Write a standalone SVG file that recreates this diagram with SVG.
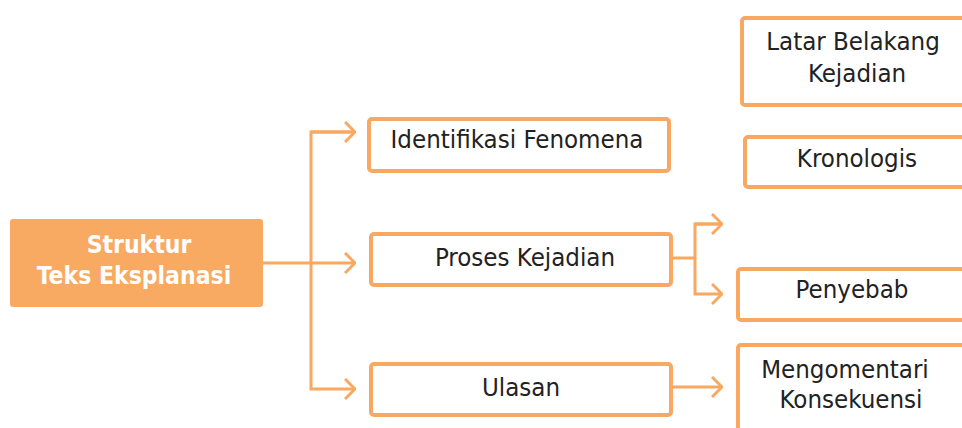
<svg xmlns="http://www.w3.org/2000/svg" width="962" height="428" viewBox="0 0 962 428">
<defs>
<style>
.box{fill:#fff;stroke:#F9A861;stroke-width:4}
.main{fill:#F8AA63}
.t{font-family:'DejaVu Sans Condensed','DejaVu Sans',sans-serif;font-stretch:condensed;font-size:25.6px;fill:#222;text-anchor:middle}
.tm{font-family:'DejaVu Sans Condensed','DejaVu Sans',sans-serif;font-stretch:condensed;font-size:24.5px;font-weight:bold;fill:#fff;text-anchor:middle}
.c{fill:none;stroke:#F9A861;stroke-width:3}
</style>
<marker id="ah" viewBox="0 0 12 22" refX="11" refY="11" markerWidth="12" markerHeight="22" markerUnits="userSpaceOnUse" orient="auto">
<path d="M1,1 L11,11 L1,21" fill="none" stroke="#F9A861" stroke-width="3"/>
</marker>
</defs>
<g id="connectors">
<path class="c" d="M263,263 H355" marker-end="url(#ah)"/>
<path class="c" d="M355,132 H311 V389 H355" marker-end="url(#ah)"/>
<path class="c" d="M311,132 H355" marker-end="url(#ah)"/>
<path class="c" d="M673,258 H695"/>
<path class="c" d="M722,224 H695 V294 H722" marker-end="url(#ah)"/>
<path class="c" d="M695,224 H722" marker-end="url(#ah)"/>
<path class="c" d="M673,387 H722" marker-end="url(#ah)"/>
</g>
<g id="struktur">
<rect class="main" x="10" y="219" width="253" height="88" rx="3"/>
<text class="tm" x="139" y="253">Struktur</text>
<text class="tm" x="134" y="284">Teks Eksplanasi</text>
</g>
<g id="identifikasi">
<rect class="box" x="369" y="119" width="300" height="52" rx="3"/>
<text class="t" x="517" y="148">Identifikasi Fenomena</text>
</g>
<g id="proses">
<rect class="box" x="371" y="234" width="300" height="51" rx="3"/>
<text class="t" x="525" y="266">Proses Kejadian</text>
</g>
<g id="ulasan">
<rect class="box" x="371" y="364" width="300" height="51" rx="3"/>
<text class="t" x="521" y="396">Ulasan</text>
</g>
<g id="latar">
<rect class="box" x="742" y="18" width="240" height="87" rx="3"/>
<text class="t" x="853" y="50">Latar Belakang</text>
<text class="t" x="857" y="82">Kejadian</text>
</g>
<g id="kronologis">
<rect class="box" x="745" y="137" width="240" height="50" rx="3"/>
<text class="t" x="857" y="167">Kronologis</text>
</g>
<g id="penyebab">
<rect class="box" x="738" y="269" width="240" height="51" rx="3"/>
<text class="t" x="852" y="298">Penyebab</text>
</g>
<g id="mengomentari">
<rect class="box" x="738" y="345" width="240" height="100" rx="3"/>
<text class="t" x="845" y="378">Mengomentari</text>
<text class="t" x="851" y="408">Konsekuensi</text>
</g>
</svg>
